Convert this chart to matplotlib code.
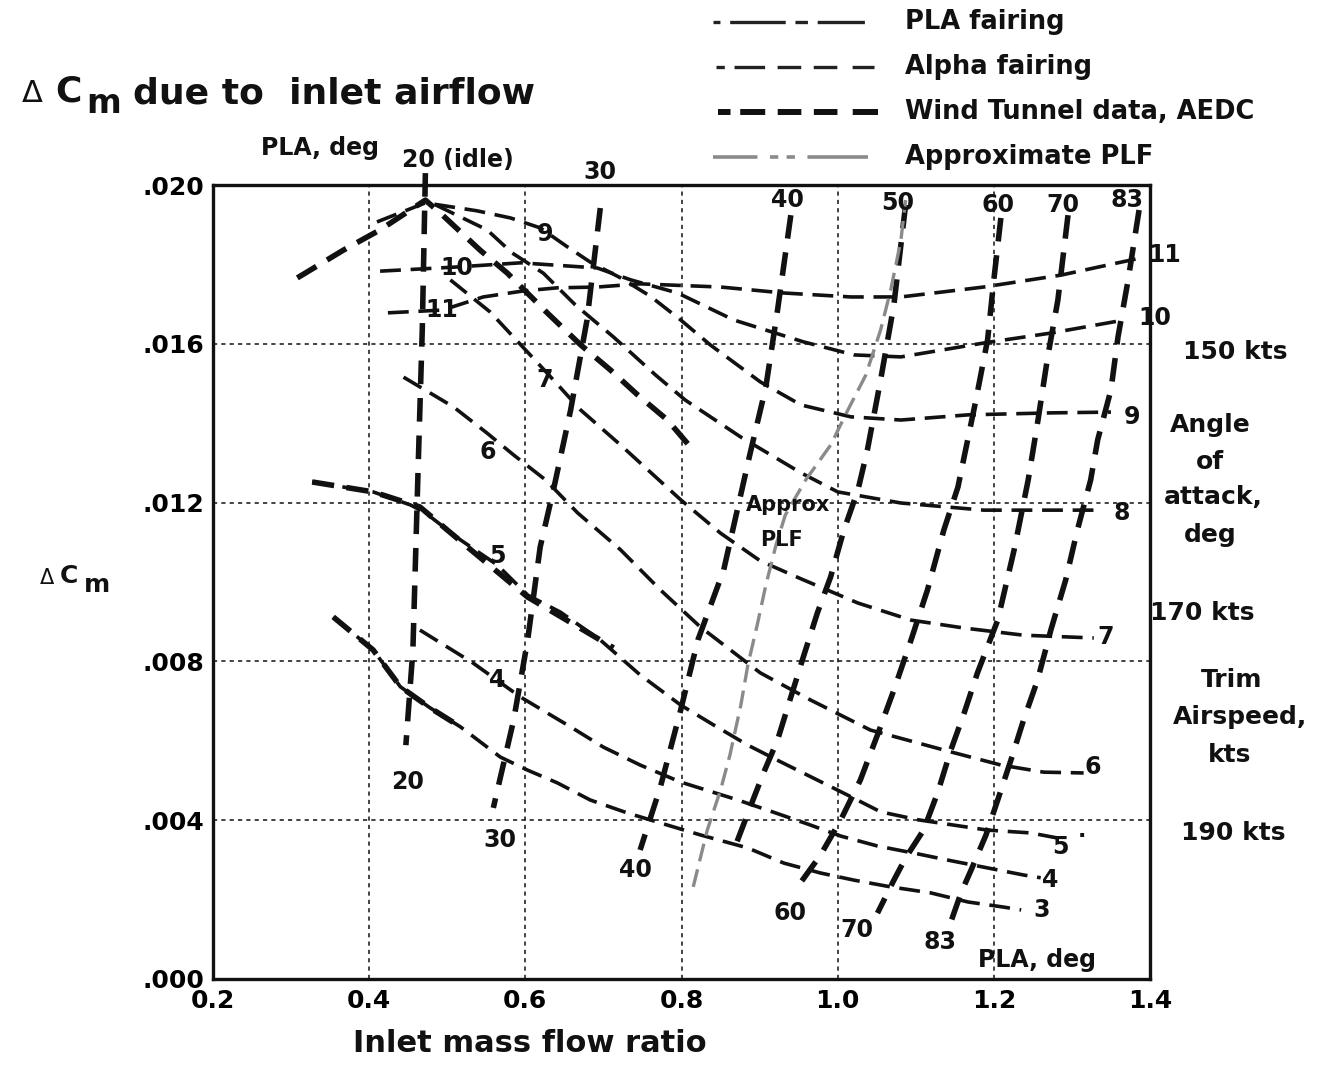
import matplotlib.pyplot as plt
from matplotlib.lines import Line2D

plt.rcParams['font.family'] = 'DejaVu Sans'
plt.rcParams['lines.scale_dashes'] = False

W, H = 1331, 1065

# axis ticks
x_ticks = [0.2, 0.4, 0.6, 0.8, 1.0, 1.2, 1.4]
x_tick_labels = ['0.2', '0.4', '0.6', '0.8', '1.0', '1.2', '1.4']
y_ticks = [0.0, 0.004, 0.008, 0.012, 0.016, 0.020]
y_tick_labels = ['.000', '.004', '.008', '.012', '.016', '.020']

# alpha fairings (angle of attack, deg)
a3_x = [0.354, 0.405, 0.440, 0.478, 0.517, 0.568, 0.603, 0.641, 0.683, 0.731, 0.773,
        0.824, 0.885, 0.931, 0.978, 1.021, 1.068, 1.119, 1.167, 1.213, 1.235]
a3_y = [0.00912, 0.00829, 0.00736, 0.00683, 0.00635, 0.00559, 0.00526, 0.00494, 0.00451,
        0.00418, 0.00393, 0.00363, 0.00330, 0.00292, 0.00267, 0.00249, 0.00232, 0.00217,
        0.00194, 0.00181, 0.00174]
a4_x = [0.465, 0.533, 0.594, 0.658, 0.700, 0.747, 0.799, 0.872, 0.918, 0.962, 1.004,
        1.051, 1.103, 1.145, 1.238, 1.260]
a4_y = [0.00879, 0.00796, 0.00710, 0.00635, 0.00584, 0.00539, 0.00496, 0.00451, 0.00420,
        0.00390, 0.00360, 0.00335, 0.00315, 0.00298, 0.00262, 0.00255]
a5_x = [0.327, 0.405, 0.453, 0.472, 0.517, 0.564, 0.603, 0.645, 0.696, 0.747, 0.799,
        0.841, 0.885, 0.927, 0.969, 1.013, 1.055, 1.103, 1.192, 1.247, 1.282]
a5_y = [0.01252, 0.01227, 0.01194, 0.01174, 0.01106, 0.01043, 0.00967, 0.00924, 0.00854,
        0.00766, 0.00690, 0.00640, 0.00589, 0.00547, 0.00506, 0.00463, 0.00421, 0.00401,
        0.00375, 0.00368, 0.00355]
a6_x = [0.444, 0.508, 0.551, 0.585, 0.626, 0.667, 0.722, 0.773, 0.824, 0.901, 0.965,
        1.042, 1.145, 1.209, 1.264, 1.315]
a6_y = [0.01516, 0.01441, 0.01375, 0.01320, 0.01257, 0.01174, 0.01081, 0.00980, 0.00887,
        0.00771, 0.00703, 0.00627, 0.00572, 0.00539, 0.00521, 0.00519]
a7_x = [0.504, 0.555, 0.628, 0.671, 0.722, 0.799, 0.850, 0.901, 0.953, 1.026, 1.094,
        1.162, 1.238, 1.328]
a7_y = [0.01761, 0.01680, 0.01526, 0.01433, 0.01345, 0.01207, 0.01123, 0.01053, 0.01008,
        0.00947, 0.00904, 0.00884, 0.00866, 0.00859]
a8_x = [0.485, 0.551, 0.583, 0.623, 0.664, 0.713, 0.767, 0.805, 0.876, 0.953, 1.000,
        1.081, 1.187, 1.337]
a8_y = [0.01950, 0.01887, 0.01829, 0.01778, 0.01698, 0.01617, 0.01521, 0.01458, 0.01365,
        0.01275, 0.01227, 0.01199, 0.01181, 0.01181]
a9_x = [0.410, 0.472, 0.538, 0.581, 0.619, 0.654, 0.683, 0.722, 0.760, 0.799, 0.837,
        0.901, 0.953, 1.017, 1.081, 1.167, 1.273, 1.350]
a9_y = [0.01907, 0.01955, 0.01935, 0.01917, 0.01892, 0.01844, 0.01806, 0.01766, 0.01720,
        0.01660, 0.01597, 0.01504, 0.01446, 0.01416, 0.01408, 0.01421, 0.01426, 0.01428]
a10_x = [0.414, 0.508, 0.594, 0.692, 0.735, 0.795, 0.867, 0.956, 1.021, 1.081, 1.187,
         1.273, 1.367]
a10_y = [0.01783, 0.01793, 0.01804, 0.01791, 0.01761, 0.01728, 0.01660, 0.01605, 0.01572,
         0.01567, 0.01602, 0.01627, 0.01660]
a11_x = [0.424, 0.494, 0.546, 0.597, 0.641, 0.692, 0.747, 0.850, 0.931, 1.017, 1.081,
         1.187, 1.286, 1.359, 1.388]
a11_y = [0.01678, 0.01685, 0.01718, 0.01733, 0.01741, 0.01743, 0.01751, 0.01743, 0.01728,
         0.01718, 0.01718, 0.01743, 0.01773, 0.01804, 0.01816]

# wind tunnel data, AEDC
wt_top_x = [0.308, 0.367, 0.414, 0.472, 0.494, 0.542, 0.577, 0.628, 0.671, 0.709, 0.744,
            0.782, 0.815]
wt_top_y = [0.01766, 0.01836, 0.01887, 0.01962, 0.01924, 0.01836, 0.01778, 0.01678,
            0.01597, 0.01534, 0.01471, 0.01408, 0.01332]
wt_mid_x = [0.327, 0.405, 0.465, 0.526, 0.603, 0.713]
wt_mid_y = [0.01252, 0.01227, 0.01189, 0.01088, 0.00962, 0.00834]
wt_low_x = [0.354, 0.405, 0.440, 0.478, 0.517]
wt_low_y = [0.00912, 0.00829, 0.00736, 0.00683, 0.00635]

# PLA fairings (deg)
pla20_x = [0.472, 0.468, 0.463, 0.456, 0.447]
pla20_y = [0.02030, 0.01635, 0.01307, 0.00829, 0.00589]
pla30_x = [0.696, 0.679, 0.658, 0.636, 0.619, 0.603, 0.585, 0.559]
pla30_y = [0.01942, 0.01660, 0.01433, 0.01232, 0.01088, 0.00854, 0.00652, 0.00431]
pla40_x = [0.940, 0.923, 0.908, 0.888, 0.854, 0.821, 0.799, 0.773, 0.747]
pla40_y = [0.01924, 0.01685, 0.01491, 0.01325, 0.01030, 0.00854, 0.00678, 0.00484, 0.00325]
pla50_x = [1.087, 1.072, 1.055, 1.038, 1.026, 1.008, 0.991, 0.974, 0.956, 0.940, 0.923,
           0.905, 0.888, 0.867]
pla50_y = [0.01950, 0.01698, 0.01509, 0.01332, 0.01232, 0.01131, 0.01013, 0.00922, 0.00811,
           0.00710, 0.00602, 0.00519, 0.00433, 0.00325]
pla60_x = [1.209, 1.200, 1.192, 1.177, 1.154, 1.136, 1.115, 1.094, 1.072, 1.051, 1.029,
           1.004, 0.978, 0.953]
pla60_y = [0.01917, 0.01761, 0.01610, 0.01458, 0.01239, 0.01131, 0.00980, 0.00854, 0.00728,
           0.00615, 0.00501, 0.00401, 0.00312, 0.00244]
pla70_x = [1.295, 1.282, 1.269, 1.256, 1.244, 1.226, 1.205, 1.179, 1.162, 1.145, 1.128,
           1.110, 1.087, 1.072, 1.051]
pla70_y = [0.01924, 0.01710, 0.01567, 0.01401, 0.01257, 0.01081, 0.00904, 0.00771, 0.00670,
           0.00577, 0.00469, 0.00375, 0.00305, 0.00249, 0.00166]
pla83_x = [1.386, 1.372, 1.359, 1.350, 1.333, 1.324, 1.307, 1.292, 1.273, 1.256, 1.238,
           1.222, 1.205, 1.190, 1.171, 1.158, 1.145]
pla83_y = [0.01937, 0.01761, 0.01617, 0.01484, 0.01358, 0.01257, 0.01131, 0.01005, 0.00879,
           0.00753, 0.00652, 0.00552, 0.00451, 0.00363, 0.00275, 0.00217, 0.00144]

# approximate PLF
plf_x = [0.815, 0.833, 0.850, 0.862, 0.876, 0.885, 0.897, 0.908, 0.921, 0.933, 0.959,
         0.991, 1.013, 1.036, 1.055, 1.068, 1.081, 1.087]
plf_y = [0.00232, 0.00375, 0.00476, 0.00564, 0.00690, 0.00791, 0.00892, 0.00992, 0.01093,
         0.01169, 0.01257, 0.01345, 0.01433, 0.01521, 0.01635, 0.01736, 0.01861, 0.01962]

alpha_curves = [(a3_x, a3_y), (a4_x, a4_y), (a5_x, a5_y), (a6_x, a6_y), (a7_x, a7_y),
                (a8_x, a8_y), (a9_x, a9_y), (a10_x, a10_y), (a11_x, a11_y)]
wt_curves = [(wt_top_x, wt_top_y), (wt_mid_x, wt_mid_y), (wt_low_x, wt_low_y)]
pla_curves = [(pla20_x, pla20_y), (pla30_x, pla30_y), (pla40_x, pla40_y), (pla50_x, pla50_y),
              (pla60_x, pla60_y), (pla70_x, pla70_y), (pla83_x, pla83_y)]

INK = '#111111'

fig = plt.figure(figsize=(W / 100, H / 100), dpi=100)
fig.patch.set_facecolor('white')
ax = fig.add_axes([213 / W, 1 - 979 / H, 937 / W, 794 / H])
ax.set_xlim(0.2, 1.4)
ax.set_ylim(0.0, 0.020)
ax.set_xticks(x_ticks)
ax.set_xticklabels(x_tick_labels, fontsize=18, fontweight='bold')
ax.set_yticks(y_ticks)
ax.set_yticklabels(y_tick_labels, fontsize=18, fontweight='bold')
ax.tick_params(axis='x', length=0, pad=7)
ax.tick_params(axis='y', length=0, pad=6)
ax.grid(True, color=INK, lw=1.1, linestyle=(0, (3, 3)))
for sp in ax.spines.values():
    sp.set_linewidth(2.4)
    sp.set_color(INK)

for cx, cy in alpha_curves:
    ax.plot(cx, cy, color=INK, lw=2.6, dashes=[15, 7], zorder=3)
for cx, cy in wt_curves:
    ax.plot(cx, cy, color=INK, lw=4.0, dashes=[16, 9], zorder=4)
for cx, cy in pla_curves:
    ax.plot(cx, cy, color=INK, lw=4.0, dashes=[17, 10], zorder=4, clip_on=False)
ax.plot(plf_x, plf_y, color='#8a8a8a', lw=2.4, dashes=[13, 6], zorder=5)


def ftext(px, py, s, size=16, weight='bold', ha='center', va='center'):
    fig.text(px / W, 1 - py / H, s, fontsize=size, fontweight=weight,
             ha=ha, va=va, color=INK)


def fline(x0, x1, py, color, lw, dashes):
    ln = Line2D([x0 / W, x1 / W], [1 - py / H, 1 - py / H], transform=fig.transFigure,
                color=color, lw=lw, dashes=dashes)
    fig.add_artist(ln)


# legend
fline(713, 868, 22, '#222222', 2.4, [5, 7, 40, 7, 9, 7, 34, 80])
fline(716, 874, 67, '#222222', 2.4, [6, 7, 22, 9, 17, 9, 17, 11, 16, 60])
fline(718, 878, 112, INK, 4.3, [9, 7, 18, 9, 17, 9, 17, 11, 19, 60])
fline(713, 868, 157, '#8a8a8a', 2.6, [32, 9, 6, 6, 6, 9, 45, 60])
ftext(905, 22, 'PLA fairing', 18.5, ha='left')
ftext(905, 67, 'Alpha fairing', 18.5, ha='left')
ftext(905, 112, 'Wind Tunnel data, AEDC', 18.5, ha='left')
ftext(905, 157, 'Approximate PLF', 18.5, ha='left')

# title
ftext(22, 93, 'Δ', 22, weight='normal', ha='left')
ftext(55, 91, 'C', 26, ha='left')
ftext(86, 104, 'm', 24, ha='left')
ftext(133, 94, 'due to  inlet airflow', 26, ha='left')

# y axis label
ftext(40, 578, 'Δ', 15, weight='normal', ha='left')
ftext(60, 576, 'C', 18, ha='left')
ftext(84, 585, 'm', 18, ha='left')

# x axis label
ftext(530, 1043, 'Inlet mass flow ratio', 22)

# PLA labels
ftext(320, 148, 'PLA, deg', 17)
ftext(458, 160, '20 (idle)', 17)
ftext(600, 172, '30', 17)
ftext(787, 200, '40', 17)
ftext(898, 203, '50', 17)
ftext(998, 205, '60', 17)
ftext(1063, 205, '70', 17)
ftext(1127, 200, '83', 17)
ftext(408, 782, '20', 17)
ftext(500, 840, '30', 17)
ftext(635, 870, '40', 17)
ftext(790, 913, '60', 17)
ftext(857, 930, '70', 17)
ftext(940, 942, '83', 17)
ftext(1037, 960, 'PLA, deg', 17)

# alpha labels inside the grid
ftext(545, 234, '9', 17)
ftext(457, 268, '10', 17)
ftext(442, 310, '11', 17)
ftext(545, 380, '7', 17)
ftext(488, 452, '6', 17)
ftext(497, 556, '5', 17)
ftext(497, 680, '4', 17)
ftext(1165, 255, '11', 17)
ftext(1155, 318, '10', 17)
ftext(1132, 417, '9', 17)
ftext(1122, 513, '8', 17)
ftext(1106, 637, '7', 17)
ftext(1093, 767, '6', 17)
ftext(1060, 847, '5', 17)
ftext(1050, 880, '4', 17)
ftext(1042, 910, '3', 17)
ftext(788, 505, 'Approx', 15)
ftext(782, 540, 'PLF', 15)

# right side annotations
ftext(1235, 352, '150 kts', 18)
ftext(1210, 425, 'Angle', 18)
ftext(1210, 462, 'of', 18)
ftext(1213, 497, 'attack,', 18)
ftext(1210, 535, 'deg', 18)
ftext(1202, 613, '170 kts', 18)
ftext(1232, 680, 'Trim', 18)
ftext(1240, 717, 'Airspeed,', 18)
ftext(1230, 755, 'kts', 18)
ftext(1233, 833, '190 kts', 18)
ftext(1082, 836, '·', 16)

fig.savefig('out.png', dpi=100, facecolor='white')
